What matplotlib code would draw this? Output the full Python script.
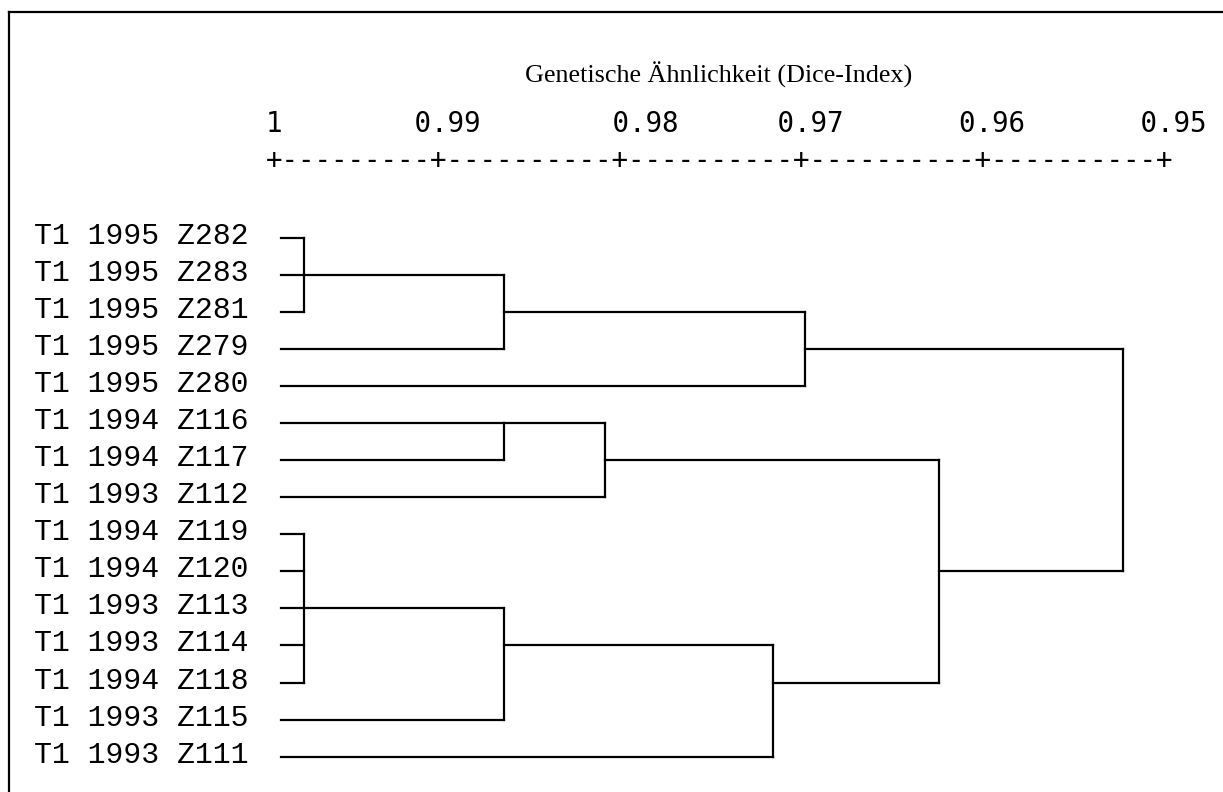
import math
import matplotlib
matplotlib.use("Agg")
import matplotlib.pyplot as plt
from matplotlib.lines import Line2D
from matplotlib.transforms import offset_copy

# ---------------- data ----------------
leaf_labels = [
    "T1 1995 Z282", "T1 1995 Z283", "T1 1995 Z281", "T1 1995 Z279",
    "T1 1995 Z280", "T1 1994 Z116", "T1 1994 Z117", "T1 1993 Z112",
    "T1 1994 Z119", "T1 1994 Z120", "T1 1993 Z113", "T1 1993 Z114",
    "T1 1994 Z118", "T1 1993 Z115", "T1 1993 Z111",
]
# merges: (children, similarity); ints = leaf index, "cN" = earlier merge N
merge_children = [
    [0, 1, 2],
    ["c0", 3],
    ["c1", 4],
    [5, 6],
    ["c3", 7],
    [8, 9, 10, 11, 12],
    ["c5", 13],
    ["c6", 14],
    ["c4", "c7"],
    ["c2", "c8"],
]
merge_similarity = [0.9983, 0.9871, 0.9703, 0.9871, 0.9815,
                    0.9983, 0.9871, 0.9721, 0.9628, 0.9525]
leaf_similarity = 1.0

tick_values = [1.0, 0.99, 0.98, 0.97, 0.96, 0.95]
tick_labels = ["1", "0.99", "0.98", "0.97", "0.96", "0.95"]
axis_title = "Genetische Ähnlichkeit (Dice-Index)"

# ---------------- layout ----------------
W, H, DPI = 1223, 792, 100
PX_X1 = 274.0          # pixel of similarity 1.0
PX_X095 = 1167.4       # pixel of similarity 0.95
ROW0_PX = 237.7
ROW_PITCH = 37.07
LEAF_GAP_PX = 7.0
LABEL_LEFT_PX = 34.0
label_cols = [0, 9, 21, 31, 42, 53]
ruler_cols = [0, 10, 21, 32, 43, 54]
LINE_W = 1.6

fig = plt.figure(figsize=(W / DPI, H / DPI), dpi=DPI)
fig.patch.set_facecolor("white")
ax = fig.add_axes([0, 0, 1, 1])
ax.set_axis_off()

ppu = (PX_X095 - PX_X1) / (tick_values[0] - tick_values[-1])
ax.set_xlim(1.0 + PX_X1 / ppu, 1.0 - (W - PX_X1) / ppu)
ax.set_ylim((H - ROW0_PX) / ROW_PITCH, -ROW0_PX / ROW_PITCH)

# ---------------- tree ----------------
node_x = {}
node_y = {}
leaf_start = leaf_similarity - LEAF_GAP_PX / ppu
for i in range(len(leaf_labels)):
    node_x[i] = leaf_start
    node_y[i] = i

lkw = dict(color="black", lw=LINE_W, solid_capstyle="projecting")
for m, (children, sim) in enumerate(zip(merge_children, merge_similarity)):
    ys = [node_y[c] for c in children]
    for c in children:
        ax.plot([node_x[c], sim], [node_y[c], node_y[c]], **lkw)
    ax.plot([sim, sim], [min(ys), max(ys)], **lkw)
    key = f"c{m}"
    node_x[key] = sim
    node_y[key] = math.floor((min(ys) + max(ys)) / 2)

# ---------------- leaf labels ----------------
lab_tr = offset_copy(ax.transData, fig=fig, x=0, y=-6.0, units="dots")
lab_x = 1.0 + (PX_X1 - LABEL_LEFT_PX) / ppu
for i, lab in enumerate(leaf_labels):
    ax.text(lab_x, i, lab, transform=lab_tr,
            fontsize=21.5, family="Liberation Mono", ha="left", va="baseline",
            color="black")

# ---------------- header (ASCII scale) ----------------
def build_line(cols, items):
    s = ""
    for c, t in zip(cols, items):
        s = s.ljust(c) + t
    return s

header = build_line(label_cols, tick_labels)
ruler = ""
for k in range(len(ruler_cols)):
    ruler = ruler.ljust(ruler_cols[k], "-") + "+"

hdr_tr = offset_copy(ax.transData, fig=fig, x=-8.3, y=0, units="dots")
y_hdr = (131.7 - ROW0_PX) / ROW_PITCH
y_rul = (169.0 - ROW0_PX) / ROW_PITCH
ax.text(tick_values[0], y_hdr, header, transform=hdr_tr, fontsize=19.8,
        family="DejaVu Sans Mono", ha="left", va="baseline", color="black")
ax.text(tick_values[0], y_rul, ruler, transform=hdr_tr, fontsize=19.8,
        family="DejaVu Sans Mono", ha="left", va="baseline", color="black")

ax.text(719, H - 82.5, axis_title, transform=None, fontsize=18.8,
        family="Liberation Serif", ha="center", va="baseline", color="black")

# ---------------- frame ----------------
fx = 9 / W
fy = 1 - 12 / H
fig.add_artist(Line2D([fx, 1], [fy, fy], transform=fig.transFigure,
                      color="black", lw=1.6))
fig.add_artist(Line2D([fx, fx], [0, fy], transform=fig.transFigure,
                      color="black", lw=1.6))

fig.savefig("out.png", dpi=DPI, facecolor="white")
